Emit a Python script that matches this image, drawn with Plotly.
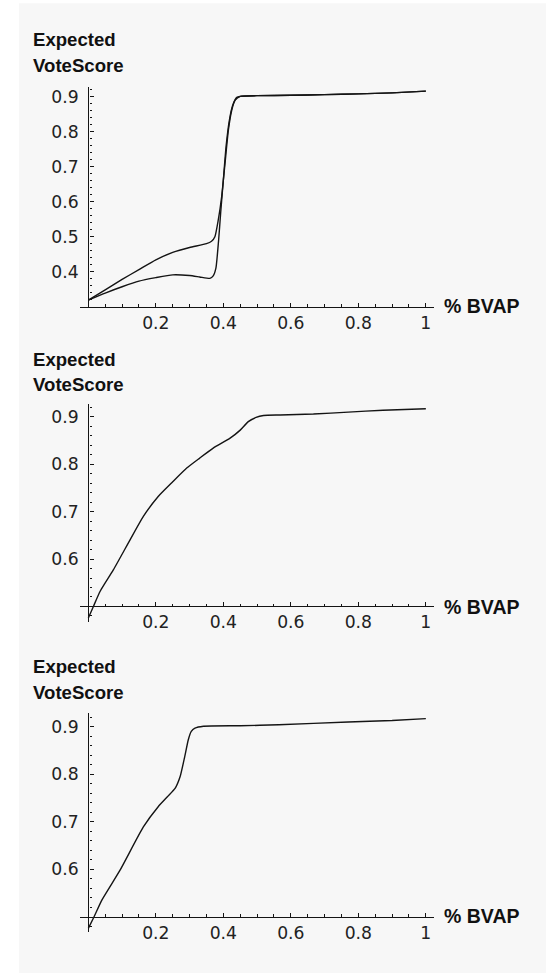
import plotly.graph_objects as go

W, H = 546, 975

# ---------------- data ----------------
p1_upper_x = [0.0, 0.05, 0.10, 0.15, 0.20, 0.25, 0.30, 0.35, 0.365, 0.375, 0.385, 0.395,
              0.405, 0.415, 0.425, 0.435, 0.45, 0.50, 0.60, 0.70, 0.80, 0.90, 1.00]
p1_upper_y = [0.319, 0.348, 0.378, 0.406, 0.434, 0.455, 0.469, 0.480, 0.487, 0.500, 0.548, 0.614,
              0.710, 0.805, 0.862, 0.890, 0.901, 0.903, 0.904, 0.906, 0.908, 0.911, 0.916]

p1_lower_x = [0.0, 0.05, 0.10, 0.15, 0.20, 0.25, 0.30, 0.33, 0.36, 0.37, 0.378, 0.386, 0.392,
              0.40, 0.408, 0.418, 0.428, 0.44, 0.45, 0.50, 0.60, 0.70, 0.80, 0.90, 1.00]
p1_lower_y = [0.319, 0.339, 0.357, 0.373, 0.383, 0.391, 0.389, 0.385, 0.381, 0.388, 0.410, 0.490, 0.567,
              0.662, 0.757, 0.833, 0.876, 0.898, 0.901, 0.903, 0.904, 0.906, 0.908, 0.911, 0.916]

p2_x = [0.0, 0.015, 0.035, 0.074, 0.124, 0.163, 0.207, 0.25, 0.2915, 0.33, 0.37, 0.42, 0.45,
        0.474, 0.497, 0.519, 0.568, 0.667, 0.77, 0.873, 1.00]
p2_y = [0.4755, 0.50, 0.532, 0.577, 0.641, 0.690, 0.732, 0.763, 0.792, 0.813, 0.834, 0.855, 0.872,
        0.890, 0.899, 0.903, 0.904, 0.906, 0.910, 0.914, 0.917]

p3_x = [0.0, 0.017, 0.04, 0.094, 0.163, 0.207, 0.235, 0.257, 0.272, 0.285, 0.296, 0.305, 0.316,
        0.341, 0.45, 0.564, 0.77, 0.90, 1.00]
p3_y = [0.4755, 0.50, 0.535, 0.598, 0.689, 0.7316, 0.753, 0.770, 0.795, 0.835, 0.872, 0.890, 0.897,
        0.901, 0.902, 0.904, 0.910, 0.913, 0.917]

x_tick_vals = [0.2, 0.4, 0.6, 0.8, 1.0]
x_tick_text = ["0.2", "0.4", "0.6", "0.8", "1"]
x_minor_vals = [0.05, 0.10, 0.15, 0.25, 0.30, 0.35, 0.45, 0.50, 0.55, 0.65, 0.70, 0.75,
                0.85, 0.90, 0.95]

p1_y_tick_vals = [0.4, 0.5, 0.6, 0.7, 0.8, 0.9]
p23_y_tick_vals = [0.6, 0.7, 0.8, 0.9]
y_minor_vals = [0.32, 0.34, 0.36, 0.38, 0.42, 0.44, 0.46, 0.48, 0.52, 0.54, 0.56, 0.58,
                0.62, 0.64, 0.66, 0.68, 0.72, 0.74, 0.76, 0.78, 0.82, 0.84, 0.86, 0.88, 0.92]

y_title_lines = ["Expected", "VoteScore"]
x_title = "% BVAP"

# ---------------- layout geometry (pixels) ----------------
def px_x(p):
    return p / W

def px_y(p):
    return 1 - p / H

x_dom = [px_x(79.9), px_x(433.6)]
y_axis_pos = px_x(88.3)

panels = [
    dict(yr=[0.3, 0.927], ybot=306.7, ytop=87.25, xax=306.7, t1=39.4, t2=65.4, xl=306.3,
         yt=p1_y_tick_vals),
    dict(yr=[0.468, 0.928], ybot=621.6, ytop=403.6, xax=606.4, t1=359.4, t2=385.0, xl=606.6,
         yt=p23_y_tick_vals),
    dict(yr=[0.468, 0.928], ybot=931.9, ytop=713.4, xax=916.7, t1=666.9, t2=692.5, xl=916.2,
         yt=p23_y_tick_vals),
]

INK = "#141414"
tick_font = dict(family="DejaVu Sans, Verdana, sans-serif", size=17.2, color="#222222")
title_font = dict(family="Liberation Sans, Arial, sans-serif", size=18.6, color="#111111")

fig = go.Figure()

series = [
    [(p1_upper_x, p1_upper_y), (p1_lower_x, p1_lower_y)],
    [(p2_x, p2_y)],
    [(p3_x, p3_y)],
]

for i, (pan, ser) in enumerate(zip(panels, series), start=1):
    for xs, ys in ser:
        fig.add_trace(go.Scatter(
            x=xs, y=ys, mode="lines",
            line=dict(color=INK, width=1.4, shape="spline", smoothing=0.5),
            xaxis=f"x{i}", yaxis=f"y{i}", showlegend=False, hoverinfo="skip",
        ))
    xa = dict(
        domain=x_dom, range=[-0.025, 1.023], anchor="free", position=px_y(pan["xax"]),
        showline=True, linecolor=INK, linewidth=1.4, ticks="inside", ticklen=4,
        tickwidth=1.3, tickcolor=INK, tickmode="array", tickvals=x_tick_vals,
        ticktext=x_tick_text, tickfont=tick_font, showgrid=False, zeroline=False,
        ticklabelstandoff=0, automargin=False, fixedrange=True,
        minor=dict(tickmode="array", tickvals=x_minor_vals, ticks="inside", ticklen=2.5,
                   tickwidth=1.2, tickcolor=INK, showgrid=False),
    )
    ya = dict(
        domain=[px_y(pan["ybot"]), px_y(pan["ytop"])], range=pan["yr"], anchor="free",
        position=y_axis_pos, showline=True, linecolor=INK, linewidth=1.4, ticks="inside",
        ticklen=4, tickwidth=1.3, tickcolor=INK, tickmode="array", tickvals=pan["yt"],
        ticktext=[f"{v:.1f}" for v in pan["yt"]], tickfont=tick_font, showgrid=False,
        zeroline=False, ticklabelstandoff=6, automargin=False, fixedrange=True,
        minor=dict(tickmode="array", tickvals=[v for v in y_minor_vals if pan["yr"][0] < v < pan["yr"][1]],
                   ticks="inside", ticklen=2.5, tickwidth=1.2, tickcolor=INK, showgrid=False),
    )
    fig.layout[f"xaxis{i}"] = xa
    fig.layout[f"yaxis{i}"] = ya

    for text, cy in zip(y_title_lines, [pan["t1"], pan["t2"]]):
        fig.add_annotation(text=f"<b>{text}</b>", xref="paper", yref="paper",
                           x=px_x(30.8), y=px_y(cy), xanchor="left", yanchor="middle",
                           showarrow=False, font=title_font)
    fig.add_annotation(text=f"<b>{x_title}</b>", xref="paper", yref="paper",
                       x=px_x(442.0), y=px_y(pan["xl"]), xanchor="left", yanchor="middle",
                       showarrow=False, font=dict(title_font, size=19.5))

fig.update_layout(
    width=W, height=H, margin=dict(l=0, r=0, t=0, b=0, pad=0),
    paper_bgcolor="white", plot_bgcolor="rgba(0,0,0,0)",
    shapes=[dict(type="rect", xref="paper", yref="paper", x0=px_x(19), x1=1.0,
                 y0=px_y(973), y1=px_y(3.3), fillcolor="#f7f7f7", line=dict(width=0),
                 layer="below")],
)

fig.write_html("out.html")
